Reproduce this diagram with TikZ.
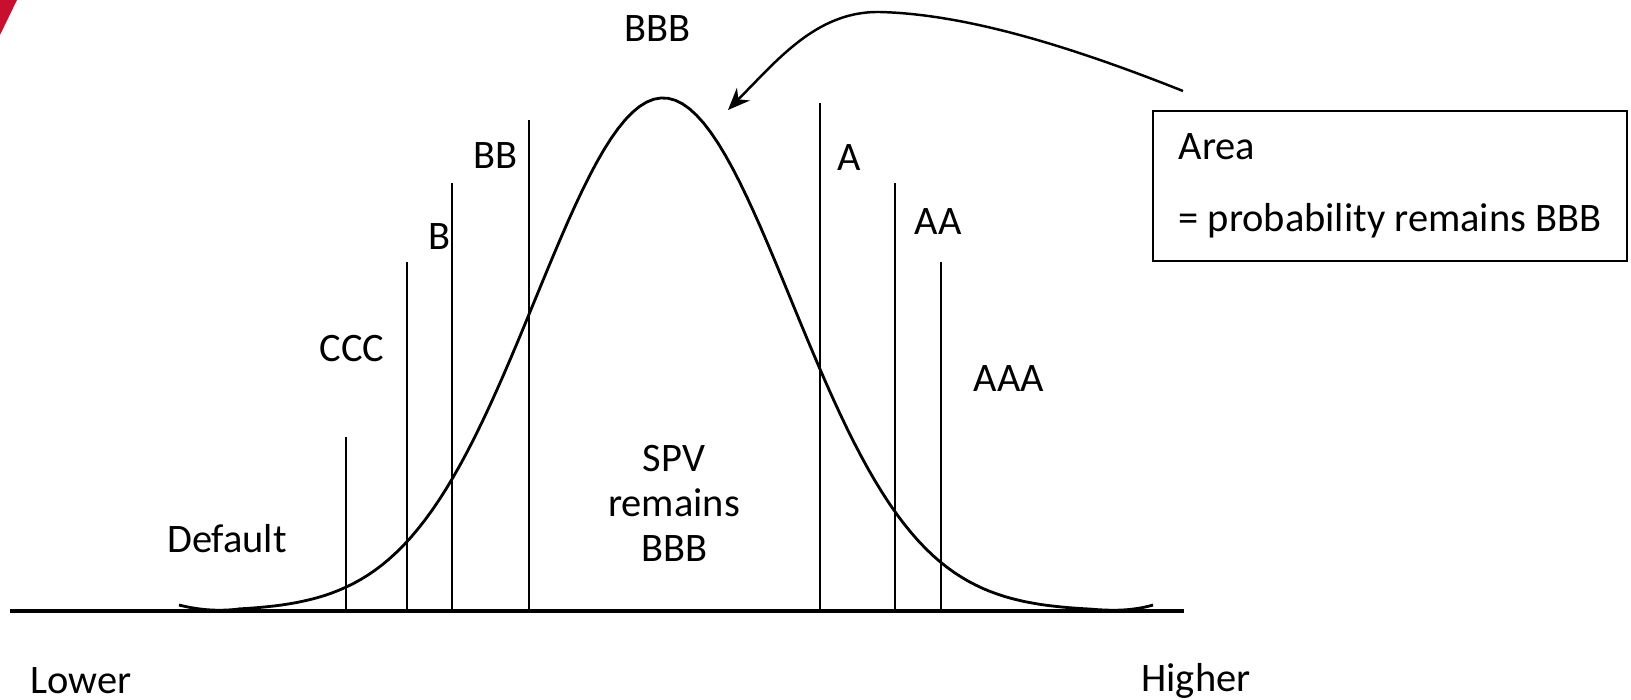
\documentclass[tikz,border=0pt]{standalone}
\usepackage{fontspec}
\setmainfont{Carlito}
\usetikzlibrary{arrows.meta}
\definecolor{cornerred}{RGB}{200,16,46}

\begin{document}
\begin{tikzpicture}[x=0.01cm, y=-0.01cm,
        lbl/.style={inner sep=0pt, font=\fontsize{11.5}{12.8}\selectfont},
        cut/.style={line width=0.5pt},
    ]
        \useasboundingbox (0,0) rectangle (1631,699);
        \fill[cornerred] (0,0) -- (17,0) -- (0,35) -- cycle;

        \coordinate (axleft) at (10,611);
        \coordinate (axright) at (1184,611);
        \draw[line width=1pt] (axleft) -- (axright);

        \draw[line width=0.8pt] (179,605) .. controls (203,611) and (222,611) .. (239,609)
            -- plot[domain=239:1090, samples=120] (\x, {611-513*exp(-0.5*((\x-663)/128)^2)})
            .. controls (1112,611) and (1132,611) .. (1153,605);

        \draw[cut] (346,611) -- (346,437);
        \draw[cut] (407,611) -- (407,262);
        \draw[cut] (452,611) -- (452,183);
        \draw[cut] (529,611) -- (529,120);
        \draw[cut] (820,611) -- (820,103);
        \draw[cut] (895,611) -- (895,183);
        \draw[cut] (941,611) -- (941,262);

        \node[lbl] (default) at (227,539) {Default};
        \node[lbl] (ccc) at (352,348) {CCC};
        \node[lbl] (b) at (439,237) {B};
        \node[lbl] (bb) at (495,156) {BB};
        \node[lbl] (bbb) at (657,29) {BBB};
        \node[lbl] (a) at (849,158) {A};
        \node[lbl] (aa) at (938,222) {AA};
        \node[lbl] (aaa) at (1009,379) {AAA};
        \node[lbl, align=center] (spv) at (674,503) {SPV\\remains\\BBB};

        \node[lbl] (lower) at (81,681) {Lower};
        \node[lbl] (higher) at (1196,681) {Higher};

        \node[lbl, draw, line width=0.6pt, minimum width=4.74cm, minimum height=1.5cm,
            align=left] (areabox) at (1390,186)
            {Area\\[0.27cm]= probability remains BBB};

        \coordinate (arrowstart) at (1183,91);
        \coordinate (arrowtip) at (728,110);
        \draw[line width=0.7pt, -{Stealth[length=0.22cm, width=0.18cm]}] (arrowstart)
            .. controls (1060,42) and (960,14) .. (880,12)
            .. controls (830,11) and (795,42) .. (765,72) -- (arrowtip);

    \end{tikzpicture}
\end{document}
